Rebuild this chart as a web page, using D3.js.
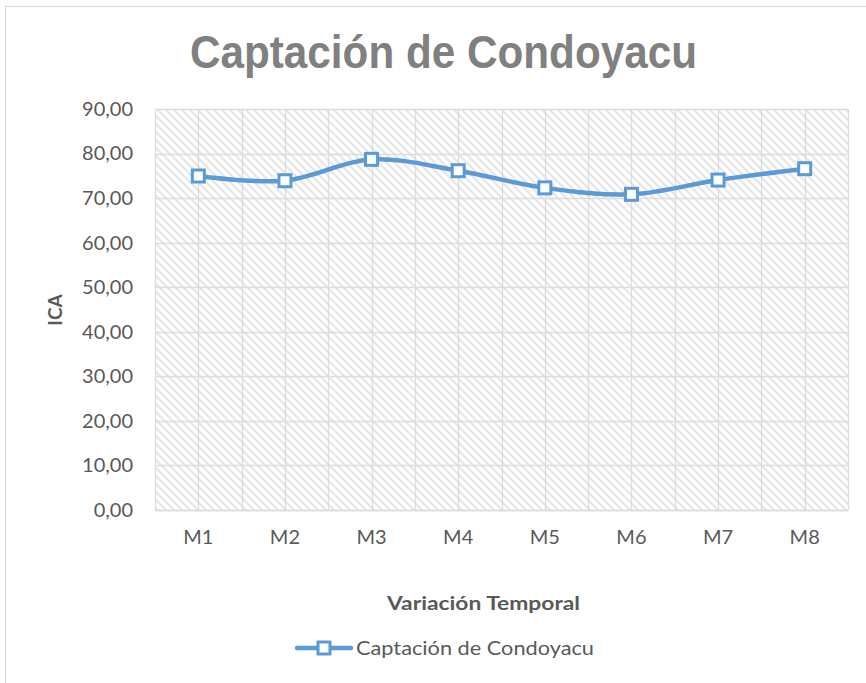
<!DOCTYPE html>
<html><head><meta charset="utf-8">
<script src="https://cdn.jsdelivr.net/npm/d3@7"></script>
<style>
html,body{margin:0;padding:0;background:#fff;}
svg{display:block;}
</style></head>
<body>
<svg id="c" width="866" height="683"></svg>
<script>
const title = "Captación de Condoyacu";
const categories = ["M1","M2","M3","M4","M5","M6","M7","M8"];
const seriesName = "Captación de Condoyacu";
const values = [74.96, 73.9, 78.7, 76.15, 72.3, 70.85, 74.05, 76.6];
const yTicks = [0,10,20,30,40,50,60,70,80,90];
const xTitle = "Variación Temporal";
const yTitle = "ICA";

const svg = d3.select("#c");
const M = {left:155, right:848, top:109, bottom:510};
const blue = "#5B9BD5";
const grid = "#dcdcdc";

// outer chart border
svg.append("rect").attr("x",5.5).attr("y",6.5).attr("width",880).attr("height",700)
  .attr("fill","#fff").attr("stroke","#d9d9d9").attr("stroke-width",1);

const defs = svg.append("defs");
const pat = defs.append("pattern").attr("id","hatch").attr("patternUnits","userSpaceOnUse")
  .attr("width",8).attr("height",8);
pat.append("rect").attr("width",8).attr("height",8).attr("fill","#fff");
pat.append("path").attr("d","M-2,-2 L10,10 M-2,6 L2,10 M6,-2 L10,2")
  .attr("stroke","#e6e6e6").attr("stroke-width",2.2);

const x = d3.scaleBand().domain(categories).range([M.left, M.right]).padding(0);
const y = d3.scaleLinear().domain([0,90]).range([M.bottom, M.top]);

// plot area
svg.append("rect").attr("x",M.left).attr("y",M.top).attr("width",M.right-M.left)
  .attr("height",M.bottom-M.top).attr("fill","url(#hatch)");

// horizontal gridlines
svg.append("g").selectAll("line").data(yTicks).join("line")
  .attr("x1",M.left).attr("x2",M.right)
  .attr("y1",d=>Math.round(y(d))+0.5).attr("y2",d=>Math.round(y(d))+0.5)
  .attr("stroke",grid).attr("stroke-width",1.3);

// vertical gridlines at category boundaries and centres
const vpos = [];
categories.forEach(c=>{ vpos.push(x(c)); vpos.push(x(c)+x.bandwidth()/2); });
vpos.push(M.right);
svg.append("g").selectAll("line").data(vpos).join("line")
  .attr("x1",d=>Math.round(d)+0.5).attr("x2",d=>Math.round(d)+0.5)
  .attr("y1",M.top).attr("y2",M.bottom)
  .attr("stroke",grid).attr("stroke-width",1.3);

// y axis labels
const fmt = d=>d3.format(".2f")(d).replace(".",",");
const yAxis = d3.axisLeft(y).tickValues(yTicks).tickFormat(fmt).tickSize(0).tickPadding(22);
const gy = svg.append("g").attr("transform",`translate(${M.left},0)`).call(yAxis);
gy.select(".domain").remove();
gy.selectAll("text").attr("font-family","Lato, 'Open Sans', sans-serif").attr("font-size",20)
  .attr("fill","#595959");

// x axis labels
const xAxis = d3.axisBottom(x).tickSize(0).tickPadding(20);
const gx = svg.append("g").attr("transform",`translate(0,${M.bottom})`).call(xAxis);
gx.select(".domain").attr("stroke",grid).attr("stroke-width",1.5);
gx.selectAll("text").attr("font-family","Lato, 'Open Sans', sans-serif").attr("font-size",20)
  .attr("fill","#595959");

// title
svg.append("text").attr("x",443.5).attr("y",68).attr("text-anchor","middle")
  .attr("font-family","'Liberation Sans', Arial, sans-serif").attr("font-weight","bold")
  .attr("font-size",47).attr("fill","#808080")
  .attr("textLength",507).attr("lengthAdjust","spacingAndGlyphs").text(title);

// axis titles
svg.append("text").attr("x",483.5).attr("y",610).attr("text-anchor","middle")
  .attr("font-family","Lato, 'Open Sans', sans-serif").attr("font-weight","bold")
  .attr("font-size",19).attr("fill","#595959")
  .attr("textLength",193).attr("lengthAdjust","spacingAndGlyphs").text(xTitle);
svg.append("text").attr("transform","translate(62,310) rotate(-90)").attr("text-anchor","middle")
  .attr("font-family","Lato, 'Open Sans', sans-serif").attr("font-weight","bold")
  .attr("font-size",19).attr("fill","#595959").text(yTitle);

// line
const pts = categories.map((c,i)=>[x(c)+x.bandwidth()/2, y(values[i])]);
svg.append("path").attr("d",d3.line().curve(d3.curveCardinal.tension(0))(pts))
  .attr("fill","none").attr("stroke",blue).attr("stroke-width",4.5).attr("stroke-linecap","round");
svg.append("g").selectAll("rect").data(pts).join("rect")
  .attr("x",d=>d[0]-6).attr("y",d=>d[1]-6).attr("width",12).attr("height",12)
  .attr("fill","#fff").attr("stroke",blue).attr("stroke-width",3);

// legend
svg.append("line").attr("x1",297).attr("x2",351).attr("y1",648).attr("y2",648)
  .attr("stroke",blue).attr("stroke-width",4.5).attr("stroke-linecap","round");
svg.append("rect").attr("x",318).attr("y",642).attr("width",12).attr("height",12)
  .attr("fill","#fff").attr("stroke",blue).attr("stroke-width",3);
svg.append("text").attr("x",356).attr("y",655).attr("font-family","Lato, 'Open Sans', sans-serif")
  .attr("font-size",20).attr("fill","#595959")
  .attr("textLength",238).attr("lengthAdjust","spacingAndGlyphs").text(seriesName);
</script>
</body></html>
